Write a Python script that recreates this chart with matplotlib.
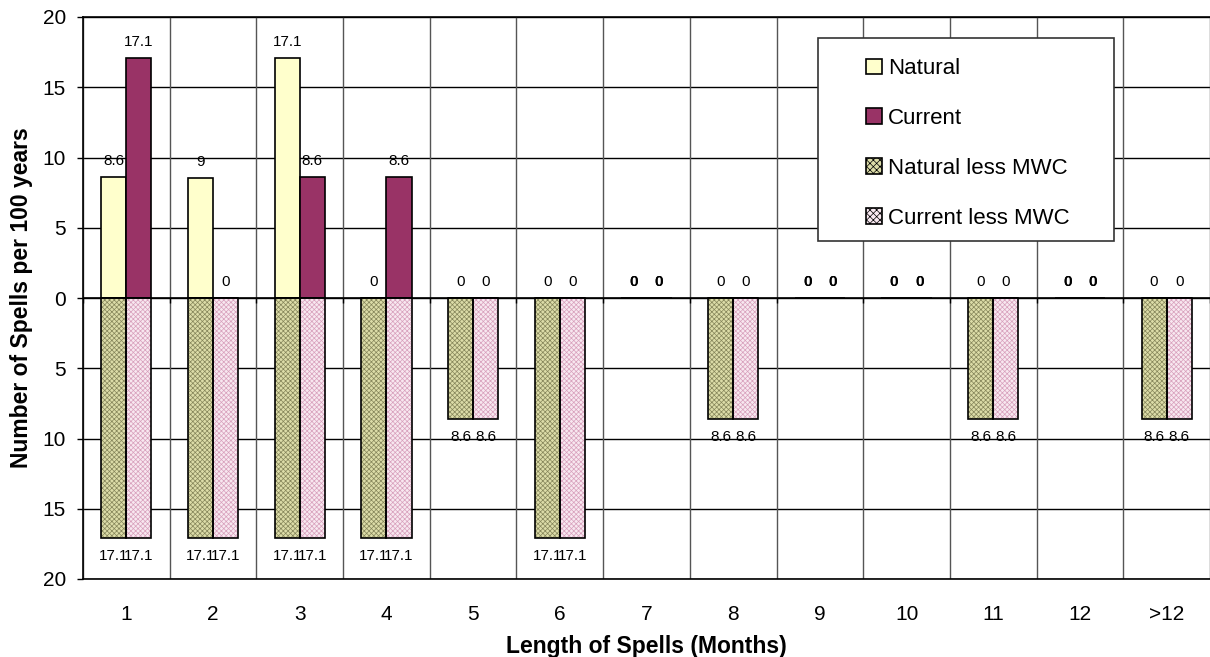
import matplotlib
matplotlib.use('Agg')
import matplotlib.pyplot as plt
from matplotlib.patches import Rectangle
import numpy as np

plt.rcParams['font.family'] = ['Liberation Sans', 'DejaVu Sans']
plt.rcParams['hatch.linewidth'] = 0.5

categories = ['1', '2', '3', '4', '5', '6', '7', '8', '9', '10', '11', '12', '>12']

# spells per 100 years, above the axis
natural = [8.6, 8.57, 17.1, 0, 0, 0, 0, 0, 0, 0, 0, 0, 0]
current = [17.1, 0, 8.6, 8.6, 0, 0, 0, 0, 0, 0, 0, 0, 0]
# spells per 100 years with MWC removed, drawn below the axis
natural_less_mwc = [17.1, 17.1, 17.1, 17.1, 8.6, 17.1, 0, 8.6, 0, 0, 8.6, 0, 8.6]
current_less_mwc = [17.1, 17.1, 17.1, 17.1, 8.6, 17.1, 0, 8.6, 0, 0, 8.6, 0, 8.6]

# number formats used for the value labels (Excel style, per point)
natural_fmt = ['{:.1f}', '{:.0f}'] + ['{:.1f}'] * 11


def fmt_value(v, f='{:.1f}'):
    if v == 0:
        return '0'
    return f.format(v)


fig = plt.figure(figsize=(12.1, 6.57), dpi=100)
ax = fig.add_axes([83 / 1210, 1 - 579 / 657, 1127 / 1210, 562 / 657])

x = np.arange(len(categories))
w = 0.29

# grid
for y in range(-20, 21, 5):
    ax.axhline(y, color='black', linewidth=1.0, zorder=0)
for b in np.arange(-0.5, len(categories), 1.0):
    ax.axvline(b, color='#555555', linewidth=1.0, zorder=0)

# upper bars
ax.bar(x - w / 2, natural, w, color='#ffffcc', edgecolor='black', linewidth=1.2, zorder=2)
ax.bar(x + w / 2, current, w, color='#993366', edgecolor='black', linewidth=1.2, zorder=2)

# lower bars, patterned fill then outline
neg_nat = -np.array(natural_less_mwc)
neg_cur = -np.array(current_less_mwc)
ax.bar(x - w / 2, neg_nat, w, color='#dcdca8', edgecolor='#85855a', hatch='xxxxxxx',
       linewidth=0, zorder=2)
ax.bar(x + w / 2, neg_cur, w, color='#f8e8f0', edgecolor='#d8a0bc', hatch='xxxxxxx',
       linewidth=0, zorder=2)
for xs, vals in ((x - w / 2, neg_nat), (x + w / 2, neg_cur)):
    for xi, v in zip(xs, vals):
        if v != 0:
            ax.add_patch(Rectangle((xi - w / 2, 0), w, v, fill=False,
                                   edgecolor='black', linewidth=1.2, zorder=3))

# category axis sits on zero with small tick marks at the boundaries
ax.axhline(0, color='black', linewidth=1.2, zorder=4)
ax.vlines(np.arange(-0.5, len(categories), 1.0), -0.35, 0, color='black',
          linewidth=1.0, zorder=4)

# value labels
lab_kw = dict(ha='center', va='center', fontsize=11, zorder=5)
for i in range(len(categories)):
    ax.annotate(fmt_value(natural[i], natural_fmt[i]), (x[i] - w / 2, natural[i]),
                textcoords='offset points', xytext=(0, 11.5), **lab_kw)
    ax.annotate(fmt_value(current[i]), (x[i] + w / 2, current[i]),
                textcoords='offset points', xytext=(0, 11.5), **lab_kw)
    for xi, v in ((x[i] - w / 2, natural_less_mwc[i]), (x[i] + w / 2, current_less_mwc[i])):
        if v == 0:
            ax.annotate('0', (xi, 0), textcoords='offset points', xytext=(0, 11.5),
                        fontweight='bold', **lab_kw)
        else:
            ax.annotate(fmt_value(v), (xi, -v), textcoords='offset points',
                        xytext=(0, -13), **lab_kw)

ax.set_xlim(-0.5, len(categories) - 0.5)
ax.set_ylim(-20, 20)
ax.set_xticks(x)
ax.set_xticklabels(categories, fontsize=15)
ax.tick_params(axis='x', length=0, pad=19)
yt = np.arange(-20, 21, 5)
ax.set_yticks(yt)
ax.set_yticklabels([str(abs(t)) for t in yt], fontsize=15)
ax.tick_params(axis='y', direction='out', length=4.3, width=1.0, pad=8)

for side in ('top', 'left', 'bottom'):
    ax.spines[side].set_color('black')
    ax.spines[side].set_linewidth(1.2)
ax.spines['right'].set_visible(False)

ax.set_xlabel('Length of Spells (Months)', fontsize=16.5, fontweight='bold', labelpad=8)
ax.set_ylabel('Number of Spells per 100 years', fontsize=16.5, fontweight='bold', labelpad=7)

# legend box
fig.patches.append(Rectangle((818 / 1210, 1 - 241 / 657), 296 / 1210, 203 / 657,
                             transform=fig.transFigure, facecolor='white',
                             edgecolor='#333333', linewidth=1.2, zorder=6))
handles = [
    Rectangle((0, 0), 1, 1, facecolor='#ffffcc', edgecolor='black', linewidth=1.2),
    Rectangle((0, 0), 1, 1, facecolor='#993366', edgecolor='black', linewidth=1.2),
    Rectangle((0, 0), 1, 1, facecolor='#dcdca8', edgecolor='black', linewidth=1.2, hatch='xxxxx'),
    Rectangle((0, 0), 1, 1, facecolor='#f8e8f0', edgecolor='black', linewidth=1.2, hatch='xxxxx'),
]
leg = fig.legend(handles, ['Natural', 'Current', 'Natural less MWC', 'Current less MWC'],
                 loc='upper left', bbox_to_anchor=(855 / 1210, 1 - 47 / 657),
                 frameon=False, fontsize=16, handlelength=0.7, handleheight=0.7,
                 handletextpad=0.3, labelspacing=1.3, borderpad=0)
leg.set_zorder(7)

fig.savefig('out.png', dpi=100, facecolor='white')
